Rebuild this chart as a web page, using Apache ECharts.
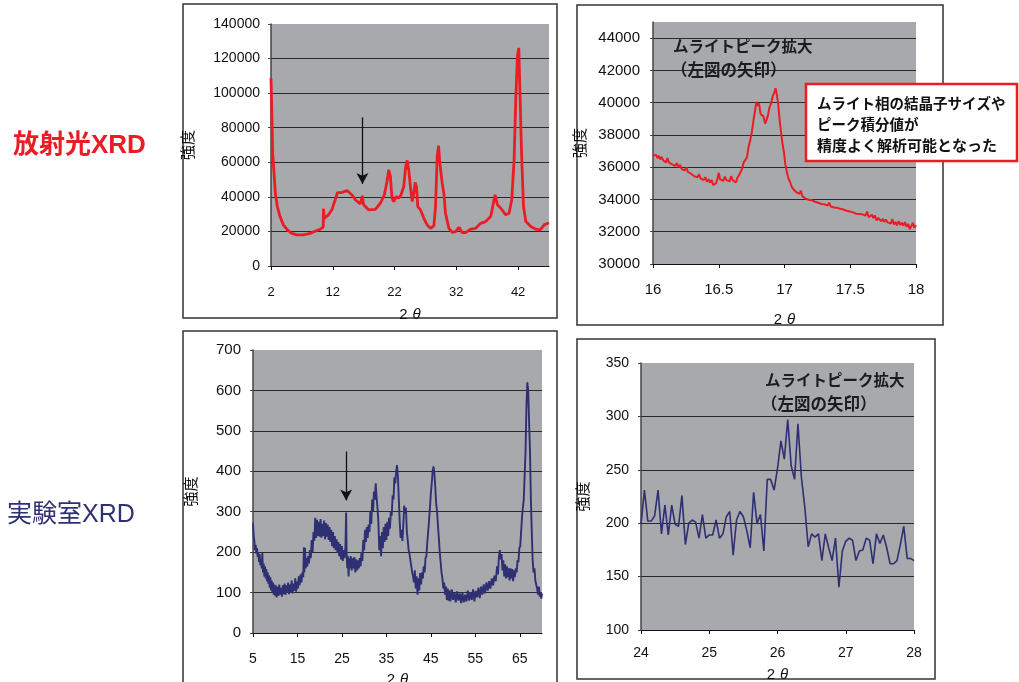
<!DOCTYPE html>
<html><head><meta charset="utf-8">
<script src="https://cdn.jsdelivr.net/npm/echarts@6/dist/echarts.min.js"></script>
<style>html,body{margin:0;padding:0;background:#fff}#c{width:1019px;height:682px}</style>
</head><body><div id="c"></div>
<script>
// ---- Data ----
// Panel 1: synchrotron XRD, [2θ, intensity]
const synFull = [[2.00,108800],[2.11,92300],[2.27,65300],[2.49,53700],[2.70,42100],[3.03,34400],[3.46,28600],[4.00,23800],[4.65,20900],[5.36,18900],[6.17,18000],[7.25,18000],[8.33,18900],[9.42,20500],[9.96,21300],[10.45,22500],[10.50,33200],[10.61,27600],[11.31,29600],[11.85,32500],[12.39,38300],[12.77,42500],[13.48,42500],[14.29,43700],[15.10,41200],[15.64,38300],[16.45,35900],[16.70,36500],[16.78,40600],[16.99,35400],[17.81,32500],[18.89,32800],[19.70,36300],[20.35,41200],[20.78,48900],[21.05,55600],[21.32,51800],[21.59,39200],[21.86,37300],[22.30,40200],[22.68,39200],[23.06,41200],[23.49,46000],[23.81,57600],[24.03,61100],[24.30,55600],[24.57,46000],[24.84,37300],[25.11,42100],[25.33,48300],[25.55,46000],[25.76,34400],[26.20,32500],[26.74,27600],[27.28,23800],[27.82,21800],[28.36,23200],[28.63,34400],[28.90,63400],[29.12,69600],[29.33,59500],[29.71,47900],[29.98,42100],[30.25,30500],[30.80,21800],[31.34,19500],[31.88,19900],[32.42,22400],[32.96,19300],[33.50,19300],[34.31,21300],[35.13,21800],[35.94,24700],[36.75,25700],[37.56,28600],[37.99,36300],[38.27,41200],[38.64,35400],[39.19,33400],[40.00,29600],[40.54,30500],[40.97,38300],[41.35,61400],[41.62,96200],[41.89,121300],[42.11,126200],[42.33,96200],[42.54,67200],[42.87,34400],[43.25,25700],[44.06,22800],[44.87,21300],[45.57,20900],[46.22,23800],[47.00,25000]];
// Panel 2: synchrotron, zoom 16-18°
const synZoom = [[16.000,36700],[16.012,36620],[16.022,36780],[16.034,36560],[16.045,36700],[16.056,36480],[16.066,36640],[16.078,36420],[16.090,36520],[16.100,36300],[16.110,36560],[16.122,36280],[16.134,36350],[16.146,36180],[16.158,36300],[16.170,36080],[16.182,36260],[16.194,36000],[16.206,36140],[16.218,35880],[16.230,35960],[16.242,35800],[16.254,35990],[16.266,35700],[16.278,35760],[16.290,35600],[16.302,35680],[16.314,35440],[16.326,35560],[16.338,35380],[16.350,35560],[16.362,35300],[16.374,35420],[16.386,35200],[16.398,35380],[16.410,35100],[16.422,35250],[16.434,35050],[16.446,35200],[16.458,34900],[16.470,34780],[16.480,35000],[16.490,35300],[16.500,35650],[16.510,35250],[16.522,35350],[16.534,35150],[16.546,35420],[16.558,35200],[16.570,35300],[16.582,35120],[16.594,35440],[16.606,35200],[16.618,35180],[16.630,35050],[16.642,35350],[16.654,35500],[16.666,35700],[16.678,35900],[16.690,36300],[16.702,36400],[16.714,36600],[16.726,37200],[16.740,37700],[16.752,38200],[16.764,38900],[16.776,39500],[16.786,40050],[16.796,39800],[16.806,39950],[16.818,39300],[16.828,39200],[16.840,39150],[16.852,38700],[16.862,38900],[16.874,39200],[16.886,39700],[16.898,39950],[16.910,40400],[16.922,40600],[16.932,40900],[16.942,40500],[16.952,39900],[16.962,39000],[16.972,38300],[16.984,37500],[16.996,36900],[17.006,36200],[17.018,35700],[17.030,35300],[17.042,35100],[17.054,34800],[17.066,34650],[17.078,34600],[17.090,34450],[17.102,34500],[17.114,34350],[17.124,34550],[17.136,34200],[17.148,34300],[17.160,34050],[17.172,34150],[17.184,33980],[17.196,34060],[17.208,33950],[17.220,34050],[17.232,33860],[17.244,33920],[17.256,33800],[17.268,33880],[17.280,33720],[17.292,33840],[17.304,33700],[17.316,33760],[17.328,33620],[17.340,33800],[17.352,33560],[17.364,33680],[17.376,33500],[17.388,33620],[17.400,33480],[17.412,33600],[17.424,33420],[17.436,33500],[17.448,33380],[17.460,33460],[17.472,33300],[17.484,33420],[17.496,33260],[17.508,33350],[17.520,33200],[17.532,33300],[17.544,33120],[17.556,33200],[17.568,33100],[17.580,33180],[17.592,33080],[17.604,33150],[17.616,33000],[17.628,33250],[17.640,32900],[17.652,32800],[17.664,33050],[17.676,32850],[17.688,33000],[17.700,32700],[17.712,32850],[17.724,32950],[17.736,32650],[17.748,32800],[17.760,32600],[17.772,32750],[17.784,32580],[17.796,32700],[17.808,32500],[17.820,32780],[17.832,32450],[17.844,32600],[17.856,32400],[17.868,32650],[17.880,32420],[17.892,32560],[17.904,32380],[17.916,32600],[17.928,32300],[17.940,32480],[17.952,32150],[17.964,32350],[17.976,32550],[17.988,32250],[18.000,32400]];
// Panel 3: laboratory XRD
const labFull = [[5.0,272],[5.15,240],[5.3,228],[5.45,205],[5.6,218],[5.75,196],[5.9,210],[6.05,188],[6.2,200],[6.35,176],[6.5,195],[6.65,168],[6.8,182],[6.95,160],[7.1,198],[7.25,150],[7.4,172],[7.55,140],[7.7,165],[7.85,135],[8.0,158],[8.15,128],[8.3,150],[8.45,122],[8.6,143],[8.75,112],[8.9,138],[9.05,106],[9.2,130],[9.35,100],[9.5,125],[9.65,95],[9.8,120],[9.95,92],[10.1,118],[10.3,88],[10.5,115],[10.7,92],[10.9,120],[11.1,95],[11.3,112],[11.5,90],[11.7,118],[11.9,96],[12.1,122],[12.3,94],[12.5,118],[12.7,100],[12.9,125],[13.1,96],[13.3,120],[13.5,100],[13.7,130],[13.9,98],[14.1,122],[14.3,105],[14.5,135],[14.7,102],[14.9,128],[15.1,110],[15.3,140],[15.5,118],[15.7,145],[15.9,125],[16.1,150],[16.3,138],[16.45,212],[16.55,150],[16.7,210],[16.85,160],[17.0,185],[17.2,165],[17.4,190],[17.6,172],[17.8,205],[18.0,185],[18.2,230],[18.4,200],[18.6,250],[18.8,228],[19.0,285],[19.2,235],[19.4,280],[19.6,240],[19.8,275],[20.0,238],[20.2,282],[20.4,236],[20.6,270],[20.8,240],[21.0,278],[21.2,232],[21.4,272],[21.6,238],[21.8,268],[22.0,230],[22.2,262],[22.4,225],[22.6,255],[22.8,215],[23.0,250],[23.2,210],[23.4,240],[23.6,205],[23.8,232],[24.0,198],[24.2,225],[24.4,190],[24.6,220],[24.8,182],[25.0,215],[25.2,178],[25.4,205],[25.6,185],[25.8,215],[25.95,298],[26.05,200],[26.2,160],[26.35,190],[26.5,140],[26.65,185],[26.8,160],[27.0,190],[27.2,155],[27.4,185],[27.6,160],[27.8,188],[28.0,150],[28.2,182],[28.4,155],[28.6,180],[28.8,160],[29.0,185],[29.2,165],[29.4,200],[29.6,178],[29.8,230],[30.0,205],[30.2,255],[30.4,225],[30.6,262],[30.8,235],[31.0,268],[31.2,250],[31.4,300],[31.6,270],[31.8,330],[32.0,300],[32.2,350],[32.4,330],[32.6,370],[32.8,335],[33.0,310],[33.2,275],[33.4,205],[33.6,240],[33.8,190],[34.0,250],[34.2,210],[34.4,262],[34.6,225],[34.8,270],[35.0,230],[35.2,275],[35.4,240],[35.6,285],[35.8,258],[36.0,300],[36.2,290],[36.4,340],[36.6,330],[36.8,385],[37.0,370],[37.2,400],[37.4,415],[37.6,385],[37.8,330],[38.0,275],[38.2,235],[38.4,255],[38.6,228],[38.8,265],[39.0,315],[39.2,295],[39.4,310],[39.6,250],[39.8,230],[40.0,205],[40.2,195],[40.4,180],[40.6,165],[40.8,150],[41.0,140],[41.2,125],[41.4,155],[41.6,110],[41.8,140],[42.0,95],[42.2,135],[42.4,105],[42.6,148],[42.8,120],[43.0,150],[43.2,135],[43.4,165],[43.6,150],[43.8,185],[44.0,190],[44.2,225],[44.4,250],[44.6,280],[44.8,310],[45.0,345],[45.2,370],[45.4,400],[45.6,412],[45.8,395],[46.0,360],[46.2,320],[46.4,300],[46.6,265],[46.8,235],[47.0,200],[47.2,175],[47.4,150],[47.6,135],[47.8,110],[48.0,125],[48.2,95],[48.4,115],[48.6,82],[48.8,110],[49.0,80],[49.2,105],[49.4,78],[49.7,108],[50.0,82],[50.3,100],[50.6,76],[50.9,103],[51.2,80],[51.5,98],[51.8,74],[52.1,100],[52.4,76],[52.7,95],[53.0,78],[53.3,105],[53.6,80],[53.9,100],[54.2,82],[54.5,108],[54.8,78],[55.1,104],[55.4,88],[55.7,112],[56.0,86],[56.3,115],[56.6,95],[56.9,120],[57.2,98],[57.5,125],[57.8,105],[58.1,128],[58.4,110],[58.7,135],[59.0,118],[59.3,142],[59.6,128],[59.9,165],[60.1,145],[60.3,188],[60.5,205],[60.7,182],[60.9,195],[61.1,155],[61.3,180],[61.5,140],[61.7,170],[61.9,135],[62.1,165],[62.3,138],[62.5,160],[62.7,130],[62.9,160],[63.1,135],[63.3,158],[63.5,128],[63.7,155],[63.9,138],[64.1,160],[64.3,150],[64.5,180],[64.7,175],[64.9,210],[65.1,215],[65.3,250],[65.5,285],[65.7,310],[65.9,330],[66.1,390],[66.3,450],[66.5,560],[66.7,620],[66.9,600],[67.1,520],[67.3,450],[67.5,330],[67.7,250],[67.9,180],[68.1,150],[68.3,160],[68.5,130],[68.7,120],[68.9,110],[69.1,95],[69.3,115],[69.5,90],[69.7,100],[69.85,85],[70.0,98]];
// Panel 4: laboratory, zoom 24-28°
const labZoomX = [24.00,24.05,24.10,24.15,24.20,24.25,24.30,24.35,24.40,24.45,24.50,24.55,24.60,24.65,24.70,24.75,24.80,24.85,24.90,24.95,25.00,25.05,25.10,25.15,25.20,25.25,25.30,25.35,25.40,25.45,25.50,25.55,25.60,25.65,25.70,25.75,25.80,25.85,25.90,25.95,26.00,26.05,26.10,26.15,26.20,26.25,26.30,26.35,26.40,26.45,26.50,26.55,26.60,26.65,26.70,26.75,26.80,26.85,26.90,26.95,27.00,27.05,27.10,27.15,27.20,27.25,27.30,27.35,27.40,27.45,27.50,27.55,27.60,27.65,27.70,27.75,27.80,27.85,27.90,27.95,28.00];
const labZoomY = [199,231,202,202,207,231,190,217,189,217,199,197,226,180,200,203,201,186,208,186,189,189,203,186,190,206,211,170,203,211,206,193,177,229,200,208,174,241,241,231,251,277,260,297,254,241,293,243,215,178,190,187,190,165,190,177,165,186,140,174,183,186,184,165,174,175,186,184,162,190,181,189,177,162,162,165,180,197,167,167,165];
// Arrows marking the mullite peak [x, yStart, yEnd]
const arrowSyn = [16.8, 86000, 47500];
const arrowLab = [25.95, 449, 328];
// Texts
const rowLabels = ['放射光XRD', '実験室XRD'];
const zoomNote = ['ムライトピーク拡大', '（左図の矢印）'];
const resultNote = ['ムライト相の結晶子サイズや', 'ピーク積分値が', '精度よく解析可能となった'];
const yName = '強度';

// ---- Chart ----
const RED = '#ec1c24', NAVY = '#2e3073', PLOT_BG = '#a7a9ac';
const LAT = '"Liberation Sans", Arial, sans-serif';
const JP = '"Noto Sans CJK JP", "Noto Sans", sans-serif';
const labZoom = labZoomX.map((x, i) => [x, labZoomY[i]]);
const plain = v => String(v);

function grid(l, t, w, h) {
  return { left: l, top: t, width: w, height: h, show: true, backgroundColor: PLOT_BG, borderWidth: 0, containLabel: false, outerBoundsMode: 'none' };
}
function xAx(idx, min, max, interval, fs, margin, gap) {
  return {
    type: 'value', gridIndex: idx, min, max, interval,
    axisLine: { show: true, onZero: false, lineStyle: { color: '#111', width: 1.2 } },
    axisTick: { show: true, length: 4, lineStyle: { color: '#111' } },
    splitLine: { show: false },
    axisLabel: { color: '#111', fontSize: fs, fontFamily: LAT, margin, formatter: plain, showMaxLabel: (max - min) % interval === 0 },
    name: '2{t|θ}', nameLocation: 'middle', nameGap: gap, nameMoveOverlap: false,
    nameTextStyle: { color: '#111', fontSize: 15, fontFamily: LAT, rich: { t: { fontSize: 15, fontStyle: 'italic', fontFamily: LAT, color: '#111', padding: [0, 0, 0, 5] } } }
  };
}
function yAx(idx, min, max, interval, fs, margin, gap) {
  return {
    type: 'value', gridIndex: idx, min, max, interval,
    axisLine: { show: true, lineStyle: { color: '#444', width: 1.5 } },
    axisTick: { show: true, length: 3, lineStyle: { color: '#444' } },
    splitLine: { show: true, showMinLine: false, showMaxLine: false, lineStyle: { color: '#2a2a2a', width: 1 } },
    axisLabel: { color: '#111', fontSize: fs, fontFamily: LAT, margin, formatter: plain, showMaxLabel: (max - min) % interval === 0 },
    name: yName, nameLocation: 'middle', nameGap: gap, nameRotate: 90, nameMoveOverlap: false,
    nameTextStyle: { color: '#111', fontSize: 15, fontFamily: JP }
  };
}
function arrowML(a) {
  return {
    silent: true, symbol: ['none', 'arrow'], symbolSize: [9, 11], label: { show: false },
    lineStyle: { color: '#111', width: 1.3, type: 'solid' },
    emphasis: { disabled: true },
    data: [[{ coord: [a[0], a[1]] }, { coord: [a[0], a[2]] }]]
  };
}
function txt(s, x, y, font, fill, z) {
  return { type: 'text', z: z || 50, silent: true, style: { text: s, x, y, font, fill: fill || '#222', textAlign: 'left', textVerticalAlign: 'middle' } };
}
function box(x, y, w, h, stroke, lw, z) {
  return { type: 'rect', z: z, silent: true, shape: { x, y, width: w, height: h }, style: { fill: '#fff', stroke, lineWidth: lw } };
}

const chart = echarts.init(document.getElementById('c'), null, { renderer: 'canvas' });
chart.setOption({
  animation: false,
  backgroundColor: '#fff',
  grid: [grid(271, 24, 278, 242), grid(653, 22, 263, 242), grid(253, 350, 289, 283), grid(641, 363, 273, 267)],
  xAxis: [xAx(0, 2, 47, 10, 13, 20, 41), xAx(1, 16, 18, 0.5, 15, 18, 48), xAx(2, 5, 70, 10, 14, 19, 39), xAx(3, 24, 28, 1, 14, 16, 37)],
  yAxis: [yAx(0, 0, 140000, 20000, 14, 11, 76), yAx(1, 30000, 45000, 2000, 15, 13, 66), yAx(2, 0, 700, 100, 15, 12, 55), yAx(3, 100, 350, 50, 14, 12, 51)],
  series: [
    { type: 'line', xAxisIndex: 0, yAxisIndex: 0, data: synFull, showSymbol: false, lineStyle: { color: RED, width: 2.8 }, markLine: arrowML(arrowSyn) },
    { type: 'line', xAxisIndex: 1, yAxisIndex: 1, data: synZoom, showSymbol: false, lineStyle: { color: RED, width: 2 } },
    { type: 'line', xAxisIndex: 2, yAxisIndex: 2, data: labFull, showSymbol: false, lineStyle: { color: NAVY, width: 1.9 }, markLine: arrowML(arrowLab) },
    { type: 'line', xAxisIndex: 3, yAxisIndex: 3, data: labZoom, showSymbol: false, lineStyle: { color: NAVY, width: 1.6 } }
  ],
  graphic: { elements: [
    box(183, 4, 374, 314, '#333', 1.5, -10),
    box(577, 5, 366, 320, '#333', 1.5, -10),
    box(183, 331, 374, 360, '#333', 1.5, -10),
    box(577, 339, 358, 340, '#333', 1.5, -10),
    txt(rowLabels[0], 13, 146, 'bold 26px "Liberation Sans", "Noto Sans CJK JP", sans-serif', RED),
    txt(rowLabels[1], 7, 515, '25px "Liberation Sans", "Noto Sans CJK JP", sans-serif', NAVY),
    txt(zoomNote[0], 673, 46, 'bold 15.5px ' + JP, '#1c1c1c'),
    txt(zoomNote[1], 671, 70, 'bold 16.5px ' + JP, '#1c1c1c'),
    txt(zoomNote[0], 765, 380, 'bold 15.5px ' + JP, '#1c1c1c'),
    txt(zoomNote[1], 761, 404, 'bold 16.5px ' + JP, '#1c1c1c'),
    box(806, 84, 211, 77, RED, 2.5, 90),
    txt(resultNote[0], 817, 103, 'bold 14.5px ' + JP, '#111', 95),
    txt(resultNote[1], 817, 124, 'bold 14.5px ' + JP, '#111', 95),
    txt(resultNote[2], 817, 145, 'bold 15px ' + JP, '#111', 95)
  ] }
});
</script>
</body></html>
